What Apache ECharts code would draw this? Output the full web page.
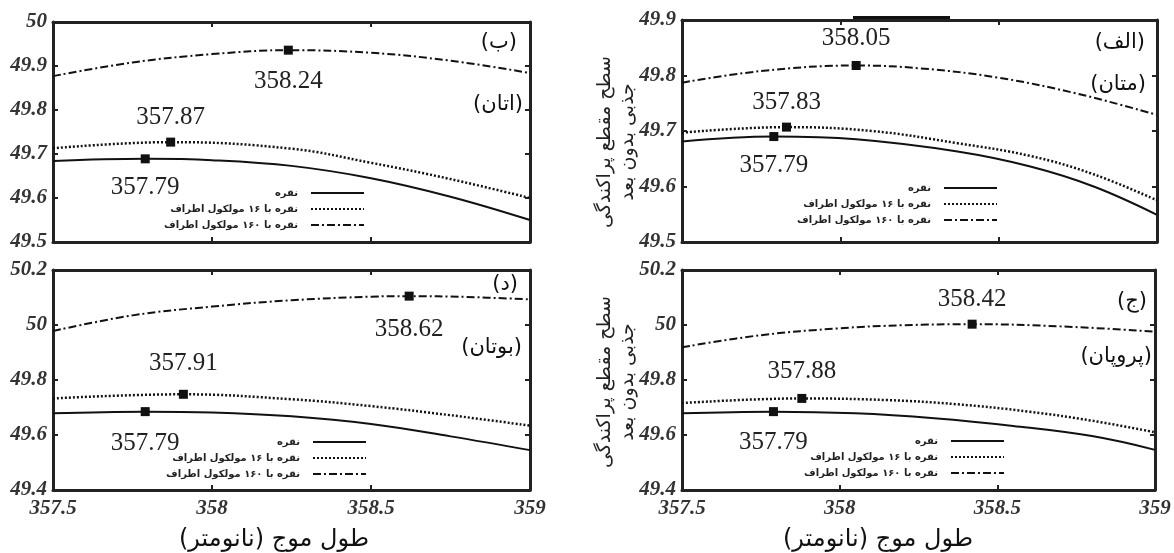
<!DOCTYPE html>
<html>
<head>
<meta charset="utf-8">
<script src="https://cdn.jsdelivr.net/npm/echarts@6/dist/echarts.min.js"></script>
<style>html,body{margin:0;padding:0;background:#fff;}#c{width:1174px;height:553px;}</style>
</head>
<body>
<div id="c"></div>
<script>
// ---- data (wavelength nm, dimensionless cross-section) ----
const xTicks = [357.5, 358, 358.5, 359];
const seriesNames = ['نقره', 'نقره با ۱۶ مولکول اطراف', 'نقره با ۱۶۰ مولکول اطراف'];

// panel (الف) methane
const A_silver = [[357.5,49.681],[357.79,49.69],[358.05,49.685],[358.37,49.663],[358.6,49.636],[358.8,49.6],[359,49.549]];
const A_m16    = [[357.5,49.697],[357.83,49.707],[358.1,49.7],[358.37,49.678],[358.6,49.655],[358.8,49.622],[359,49.575]];
const A_m160   = [[357.5,49.787],[357.75,49.808],[358.05,49.818],[358.25,49.813],[358.5,49.796],[358.75,49.767],[359,49.729]];
const A_peaks  = [357.79, 357.83, 358.05];

// panel (ب) ethane
const B_silver = [[357.5,49.684],[357.79,49.689],[358,49.686],[358.25,49.673],[358.5,49.645],[358.75,49.603],[359,49.55]];
const B_m16    = [[357.5,49.713],[357.87,49.727],[358.25,49.712],[358.5,49.68],[358.75,49.643],[359,49.6]];
const B_m160   = [[357.5,49.877],[357.75,49.908],[358,49.927],[358.24,49.936],[358.5,49.93],[358.75,49.912],[359,49.884]];
const B_peaks  = [357.79, 357.87, 358.24];

// panel (ج) propane
const C_silver = [[357.5,49.679],[357.79,49.685],[358.05,49.679],[358.3,49.661],[358.55,49.633],[358.8,49.596],[359,49.546]];
const C_m16    = [[357.5,49.716],[357.88,49.733],[358.15,49.727],[358.37,49.712],[358.6,49.685],[358.8,49.652],[359,49.61]];
const C_m160   = [[357.5,49.919],[357.75,49.963],[358,49.988],[358.2,49.999],[358.42,50.003],[358.7,49.995],[359,49.976]];
const C_peaks  = [357.79, 357.88, 358.42];

// panel (د) butane
const D_silver = [[357.5,49.679],[357.79,49.685],[358,49.682],[358.25,49.668],[358.5,49.64],[358.75,49.595],[359,49.545]];
const D_m16    = [[357.5,49.733],[357.91,49.748],[358.25,49.73],[358.5,49.705],[358.75,49.672],[359,49.634]];
const D_m160   = [[357.5,49.978],[357.75,50.035],[358,50.067],[358.25,50.09],[358.5,50.103],[358.62,50.105],[358.8,50.102],[359,50.093]];
const D_peaks  = [357.79, 357.91, 358.62];

const yRangeTop = [49.5, 50, 0.1];     // (ب)
const yRangeA   = [49.5, 49.9, 0.1];   // (الف)
const yRangeBottom = [49.4, 50.2, 0.2];// (ج),(د)

const panelTags = ['(ب)', '(الف)', '(د)', '(ج)'];
const panelGases = ['(اتان)', '(متان)', '(بوتان)', '(پروپان)'];
const xTitle = 'طول موج (نانومتر)';
const yTitle1 = 'سطح مقطع پراکندگی';
const yTitle2 = 'جذبی بدون بعد';

// ---- layout ----
const grids = [
  {left:53, top:22, width:477, height:220},   // ب
  {left:682, top:20, width:475, height:222},  // الف
  {left:53, top:270, width:477, height:220},  // د
  {left:682, top:270, width:473, height:220}  // ج
];
const panelData = [
  {lines:[B_silver,B_m16,B_m160], peaks:B_peaks, y:yRangeTop, lab:[['bottom',12],['top',8],['bottom',14]]},
  {lines:[A_silver,A_m16,A_m160], peaks:A_peaks, y:yRangeA, lab:[['bottom',12],['top',8],['top',10]]},
  {lines:[D_silver,D_m16,D_m160], peaks:D_peaks, y:yRangeBottom, lab:[['bottom',15],['top',14],['bottom',16]]},
  {lines:[C_silver,C_m16,C_m160], peaks:C_peaks, y:yRangeBottom, lab:[['bottom',14],['top',10],['top',8]]}
];
const lineTypes = ['solid', [2,2], [8,3,2,3]];
const lineWidths = [2, 2.5, 2];
const legendPos = [
  {right:809, top:188}, {right:176, top:183}, {right:807, top:437}, {right:169, top:436}
];

const tickFont = {fontFamily:'Liberation Serif', fontStyle:'italic', fontWeight:'bold', fontSize:21, color:'#333'};
const xAxes = [], yAxes = [], series = [], legends = [];
grids.forEach((g, i) => {
  const p = panelData[i];
  const bottomRow = i >= 2;
  xAxes.push({type:'value', gridIndex:i, min:xTicks[0], max:xTicks[xTicks.length-1], interval:0.5,
    axisLine:{show:true, lineStyle:{color:'#222', width:3}},
    axisTick:{show:true, inside:true, length:5, lineStyle:{color:'#222', width:2}},
    axisLabel:Object.assign({show:bottomRow, margin:8}, tickFont), splitLine:{show:false}});
  yAxes.push({type:'value', gridIndex:i, min:p.y[0], max:p.y[1], interval:p.y[2],
    axisLine:{show:true, lineStyle:{color:'#222', width:3}},
    axisTick:{show:true, inside:true, length:5, lineStyle:{color:'#222', width:2}},
    axisLabel:Object.assign({show:true, margin:6}, tickFont), splitLine:{show:false}});
});
grids.forEach((g, i) => {
  const p = panelData[i];
  xAxes.push({type:'value', gridIndex:i, position:'top', min:xTicks[0], max:xTicks[xTicks.length-1], interval:0.5,
    axisLine:{show:true, lineStyle:{color:'#222', width:3}},
    axisTick:{show:true, inside:true, length:5, lineStyle:{color:'#222', width:2}},
    axisLabel:{show:false}, splitLine:{show:false}});
  yAxes.push({type:'value', gridIndex:i, position:'right', min:p.y[0], max:p.y[1], interval:p.y[2],
    axisLine:{show:true, lineStyle:{color:'#222', width:3}},
    axisTick:{show:true, inside:true, length:5, lineStyle:{color:'#222', width:2}},
    axisLabel:{show:false}, splitLine:{show:false}});
});

grids.forEach((g, i) => {
  const p = panelData[i];
  p.lines.forEach((arr, k) => {
    const data = arr.map(pt => {
      if (pt[0] === p.peaks[k]) {
        return {value:pt, symbol:'rect', symbolSize:9,
          itemStyle:{color:'#111'},
          label:{show:true, position:p.lab[k][0], distance:p.lab[k][1],
            formatter: pt[0].toFixed(2),
            fontFamily:'Liberation Serif', fontSize:25, color:'#222'}};
      }
      return {value:pt, symbol:'none'};
    });
    series.push({type:'line', name:seriesNames[k], xAxisIndex:i, yAxisIndex:i,
      smooth:0.4, symbol:'none', showSymbol:true, showAllSymbol:true, animation:false,
      label:{show:false, fontFamily:'Liberation Serif', fontSize:25, color:'#222'},
      lineStyle:{color:'#111', width:lineWidths[k], type:lineTypes[k]}, itemStyle:{color:'#111'},
      data:data, z:3});
  });
  legends.push(Object.assign({
    orient:'vertical', align:'right', itemWidth:53, itemHeight:10, itemGap:6,
    data:seriesNames, selectedMode:false, padding:0,
    itemStyle:{color:'rgba(0,0,0,0)', borderColor:'rgba(0,0,0,0)', borderWidth:0, opacity:0},
    textStyle:{fontFamily:'DejaVu Sans', fontSize:10, color:'#222', fontWeight:'bold', padding:[0,8,0,0]}
  }, legendPos[i]));
});

const graphics = [];
const tagPos = [[517,43,523,105],[1145,43,1146,85],[518,285,522,348],[1147,302,1152,357]];
tagPos.forEach((t, i) => {
  graphics.push({type:'text', style:{text:panelTags[i], x:t[0], y:t[1], align:'right', verticalAlign:'middle',
    fontFamily:'DejaVu Sans', fontSize:21, fill:'#111'}});
  graphics.push({type:'text', style:{text:panelGases[i], x:t[2], y:t[3], align:'right', verticalAlign:'middle',
    fontFamily:'DejaVu Sans', fontSize:21, fill:'#111'}});
});
[[274,540],[878,540]].forEach(p => {
  graphics.push({type:'text', style:{text:xTitle, x:p[0], y:p[1], align:'center', verticalAlign:'middle',
    fontFamily:'DejaVu Sans', fontSize:24, fill:'#111'}});
});
[142, 382].forEach(cy => {
  graphics.push({type:'text', x:605, y:cy, rotation:Math.PI/2, style:{text:yTitle1, x:0, y:0, align:'center', verticalAlign:'middle',
    fontFamily:'DejaVu Sans', fontSize:19, fill:'#222'}});
  graphics.push({type:'text', x:628, y:cy, rotation:Math.PI/2, style:{text:yTitle2, x:0, y:0, align:'center', verticalAlign:'middle',
    fontFamily:'DejaVu Sans', fontSize:19, fill:'#222'}});
});
// dark mark on the top border of panel (الف)
graphics.push({type:'rect', shape:{x:853, y:16, width:97, height:4}, style:{fill:'#111'}});

const chart = echarts.init(document.getElementById('c'));
chart.setOption({
  backgroundColor:'#fff',
  animation:false,
  grid: grids,
  xAxis: xAxes,
  yAxis: yAxes,
  legend: legends,
  series: series,
  graphic: graphics
});
</script>
</body>
</html>
